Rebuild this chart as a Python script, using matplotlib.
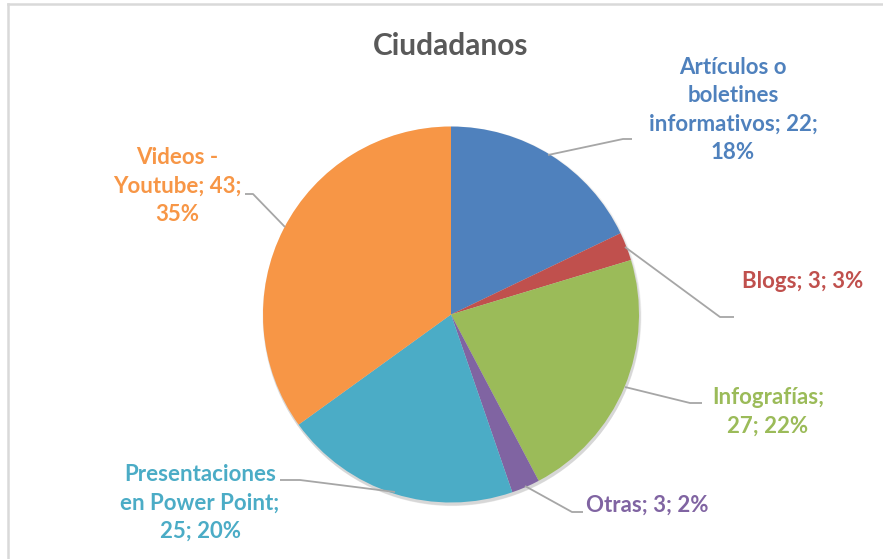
import matplotlib.pyplot as plt
from matplotlib.patches import Circle

plt.rcParams["font.family"] = ["Lato", "DejaVu Sans"]

# Slices, clockwise from 12 o'clock
categories = ["Artículos o boletines informativos", "Blogs", "Infografías",
              "Otras", "Presentaciones en Power Point", "Videos - Youtube"]
values = [22, 3, 27, 3, 25, 43]
label_texts = [
    "Artículos o\nboletines\ninformativos; 22;\n18%",
    "Blogs; 3; 3%",
    "Infografías;\n27; 22%",
    "Otras; 3; 2%",
    "Presentaciones\nen Power Point;\n25; 20%",
    "Videos -\nYoutube; 43;\n35%",
]
colors = ["#4F81BD", "#C0504D", "#9BBB59", "#8064A2", "#4BACC6", "#F79646"]

W, H = 883, 559
fig = plt.figure(figsize=(W / 100, H / 100), dpi=100)
ax = fig.add_axes([0, 0, 1, 1])


def Y(y):  # pixel row -> data y
    return H - y


cx, cy, r = 451, Y(314.5), 188

# soft shadow behind the pie
for i, a in enumerate([0.05, 0.05, 0.06]):
    ax.add_patch(Circle((cx + 1, cy - 1.5 - i * 0.8), r + 1.5 - i * 0.5,
                        facecolor="#000000", alpha=a, edgecolor="none", zorder=1))

ax.pie(values, colors=colors, startangle=90, counterclock=False,
       center=(cx, cy), radius=r, frame=True,
       wedgeprops=dict(linewidth=0, zorder=2))
ax.set_xlim(0, W)
ax.set_ylim(0, H)
ax.set_aspect("equal")
ax.set_axis_off()

# leader lines (pixel coordinates)
leaders = [
    [(548, 155), (623, 139), (632, 139)],
    [(625, 247), (720, 317), (734, 317)],
    [(625, 387), (690, 403), (702, 403)],
    [(525, 486), (572, 512), (583, 512)],
    [(395, 492), (300, 480), (280, 480)],
    [(285, 227), (253, 194), (245, 194)],
]
for pts in leaders:
    ax.plot([p[0] for p in pts], [Y(p[1]) for p in pts],
            color="#A6A6A6", lw=1.3, zorder=3, solid_capstyle="butt")

# label positions: (x, y)
label_pos = [
    (733, 110),
    (803, 282),
    (768, 412),
    (647, 505),
    (200, 503),
    (177, 186),
]
for txt, (x, y), c in zip(label_texts, label_pos, colors):
    ax.text(x, Y(y), txt, ha="center", va="center", fontsize=16,
            fontweight="bold", color=c, linespacing=1.42, zorder=4)

ax.text(451, Y(46), "Ciudadanos", ha="center", va="center", fontsize=21.5,
        fontweight="bold", color="#595959")

# chart border (only top and left visible in crop)
ax.plot([8, W], [Y(4), Y(4)], color="#D9D9D9", lw=1.8, zorder=0)
ax.plot([8, 8], [Y(4), 0], color="#D9D9D9", lw=1.8, zorder=0)

fig.savefig("out.png", dpi=100)
